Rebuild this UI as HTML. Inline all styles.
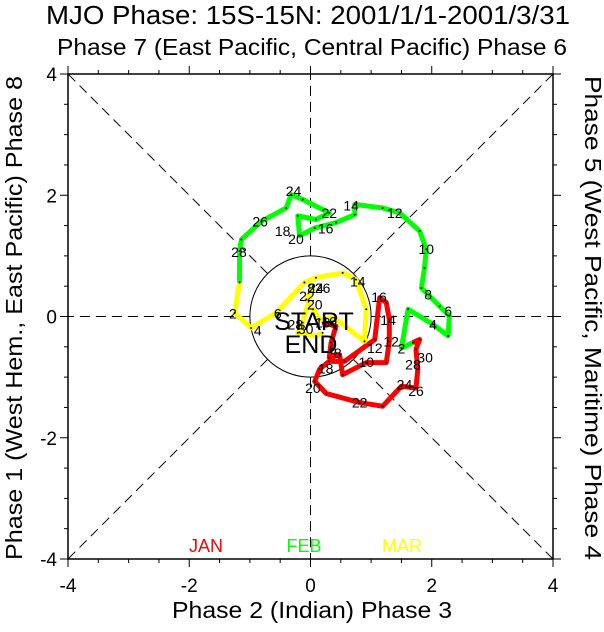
<!DOCTYPE html>
<html><head><meta charset="utf-8"><style>
body{margin:0;background:#fff}
svg text{font-family:"Liberation Sans",sans-serif}
</style></head><body>
<svg id="chart" width="604" height="627" viewBox="0 0 604 627" xmlns="http://www.w3.org/2000/svg">
<text x="308" y="24" font-size="25.5" text-anchor="middle" textLength="524" lengthAdjust="spacingAndGlyphs">MJO Phase: 15S-15N: 2001/1/1-2001/3/31</text>
<text x="312" y="55" font-size="23" text-anchor="middle" textLength="510" lengthAdjust="spacingAndGlyphs">Phase 7 (East Pacific, Central Pacific) Phase 6</text>
<text x="312" y="618" font-size="23" text-anchor="middle" textLength="280" lengthAdjust="spacingAndGlyphs">Phase 2 (Indian) Phase 3</text>
<text transform="translate(22,318) rotate(-90)" font-size="23" text-anchor="middle" textLength="484" lengthAdjust="spacingAndGlyphs">Phase 1 (West Hem., East Pacific) Phase 8</text>
<text transform="translate(585,318) rotate(90)" font-size="23" text-anchor="middle" textLength="484" lengthAdjust="spacingAndGlyphs">Phase 5 (West Pacific, Maritime) Phase 4</text>
<g id="grid"></g><g id="ticks"></g><g id="series"></g><g id="labels"></g>
<text x="314" y="330" font-size="25" text-anchor="middle">START</text>
<text x="311" y="353" font-size="25" text-anchor="middle">END</text>
<text x="206" y="552" font-size="18" fill="#ff0000" text-anchor="middle">JAN</text>
<text x="304" y="552" font-size="18" fill="#00ff00" text-anchor="middle">FEB</text>
<text x="402" y="552" font-size="18" fill="#ffff00" text-anchor="middle">MAR</text>
<rect x="68" y="74" width="485" height="485" fill="none" stroke="#000" stroke-width="1.5"/>
</svg>
<script>
const xTicks=[-4,-2,0,2,4];
const yTicks=[-4,-2,0,2,4];
const janX=[0.20,0.42,0.34,0.31,0.48,0.53,0.92,1.25,1.30,1.30,1.25,1.14,1.06,0.56,0.31,0.15,0.07,0.26,0.81,1.19,1.50,1.74,1.77,1.74,1.80,1.69];
const janY=[-0.10,-0.16,-0.43,-0.68,-0.63,-0.96,-0.76,-0.76,-0.41,-0.05,0.23,0.31,-0.38,-0.74,-0.74,-0.87,-1.07,-1.27,-1.42,-1.48,-1.15,-1.18,-0.87,-0.54,-0.38,-0.43];
const febX=[1.69,1.50,1.61,2.02,2.27,2.29,2.13,1.83,1.88,1.91,1.80,1.47,1.19,0.73,0.73,0.42,0.07,-0.18,-0.21,0.09,0.31,-0.13,-0.32,-0.40,-0.81,-1.14,-1.17,-1.17];
const febY=[-0.43,-0.52,0.12,-0.13,-0.32,0.01,0.17,0.47,0.80,1.11,1.41,1.71,1.79,1.85,1.68,1.55,1.46,1.33,1.66,1.60,1.71,1.93,2.01,1.79,1.57,1.27,1.08,0.56];
const marX=[-1.17,-1.25,-0.98,-0.57,-0.10,0.09,0.53,0.75,0.92,0.89,0.40,0.15,0.04,-0.07,0.04,-0.13,-0.21,0.09,0.20];
const marY=[0.56,0.06,-0.19,0.06,0.56,0.64,0.72,0.61,0.12,-0.41,-0.02,-0.05,0.12,0.28,0.50,-0.10,-0.27,-0.32,-0.27];
const janLabels=[[6,0.37,-0.54],[8,0.45,-0.60],[10,0.92,-0.75],[12,1.33,-0.41],[14,1.28,-0.06],[16,1.13,0.32],[18,0.25,-0.86],[20,0.04,-1.18],[22,0.81,-1.42],[24,1.55,-1.12],[26,1.74,-1.23],[28,1.69,-0.79],[30,1.89,-0.68]];
const febLabels=[[2,1.50,-0.53],[4,2.02,-0.13],[6,2.27,0.09],[8,1.94,0.36],[10,1.91,1.11],[12,1.39,1.71],[14,0.67,1.83],[16,0.25,1.45],[18,-0.46,1.41],[20,-0.24,1.28],[22,0.31,1.71],[24,-0.28,2.07],[26,-0.83,1.57],[28,-1.18,1.06]];
const marLabels=[[2,-1.28,0.05],[4,-0.87,-0.23],[6,-0.54,0.05],[14,0.78,0.58],[12,1.06,-0.52],[8,0.01,0.47],[24,0.09,0.47],[26,0.20,0.47],[22,-0.06,0.34],[20,0.07,0.20],[28,-0.25,-0.13],[30,-0.08,-0.21],[10,0.31,-0.08],[18,0.20,-0.10]];
const NS='http://www.w3.org/2000/svg';
const sx=v=>310.5+v*60.625, sy=v=>316.5-v*60.625;
function mk(tag,attrs,parent){const e=document.createElementNS(NS,tag);for(const k in attrs)e.setAttribute(k,attrs[k]);parent.appendChild(e);return e;}
const grid=document.getElementById('grid'),ticks=document.getElementById('ticks'),series=document.getElementById('series'),labels=document.getElementById('labels');
const dirs=[[1,0],[0,1],[1,1],[1,-1]];
dirs.forEach(d=>{const n=Math.hypot(d[0],d[1]);const ux=d[0]/n,uy=d[1]/n;const t=d[0]&&d[1]?4*Math.SQRT2:4;
 [1,-1].forEach(s=>{const l=mk('line',{x1:sx(s*ux),y1:sy(s*uy),x2:sx(s*ux*t),y2:sy(s*uy*t),stroke:'#000','stroke-width':1,'stroke-dasharray':'10,6'},grid);
 
 });});
const c=mk('circle',{cx:sx(0),cy:sy(0),r:60.625,fill:'none',stroke:'#000','stroke-width':1},grid);


for(let v=-4;v<=4.001;v+=0.5){const major=Math.abs(v%2)<0.01;const L=major?8:4;
 mk('line',{x1:sx(v),y1:74,x2:sx(v),y2:74-L,stroke:'#000'},ticks);
 mk('line',{x1:sx(v),y1:559,x2:sx(v),y2:559+L,stroke:'#000'},ticks);
 mk('line',{x1:68,y1:sy(v),x2:68-L,y2:sy(v),stroke:'#000'},ticks);
 mk('line',{x1:553,y1:sy(v),x2:553+L,y2:sy(v),stroke:'#000'},ticks);}
xTicks.forEach(v=>{const t=mk('text',{x:sx(v),y:592,'font-size':19,'text-anchor':'middle'},ticks);t.textContent=v;
 
 });
yTicks.forEach(v=>{const t=mk('text',{x:57,y:sy(v)+7,'font-size':19,'text-anchor':'end'},ticks);t.textContent=v;
 
 });
function drawSeries(xs,ys,col,name){const p=xs.map((x,i)=>sx(x)+','+sy(ys[i])).join(' ');
 const pl=mk('polyline',{points:p,fill:'none',stroke:col,'stroke-width':5,'stroke-linejoin':'round'},series);
 
 
 xs.forEach((x,i)=>mk('circle',{cx:sx(x),cy:sy(ys[i]),r:1,fill:'#000'},series));}
drawSeries(janX,janY,'#ff0000','jan-trajectory');
drawSeries(febX,febY,'#00ff00','feb-trajectory');
drawSeries(marX,marY,'#ffff00','mar-trajectory');
function drawLabels(arr){arr.forEach(a=>{const t=mk('text',{x:sx(a[1]),y:sy(a[2])+5,'font-size':14,'text-anchor':'middle'},labels);t.textContent=a[0];
 
 });}
drawLabels(janLabels);drawLabels(febLabels);drawLabels(marLabels);
</script>
</body></html>
